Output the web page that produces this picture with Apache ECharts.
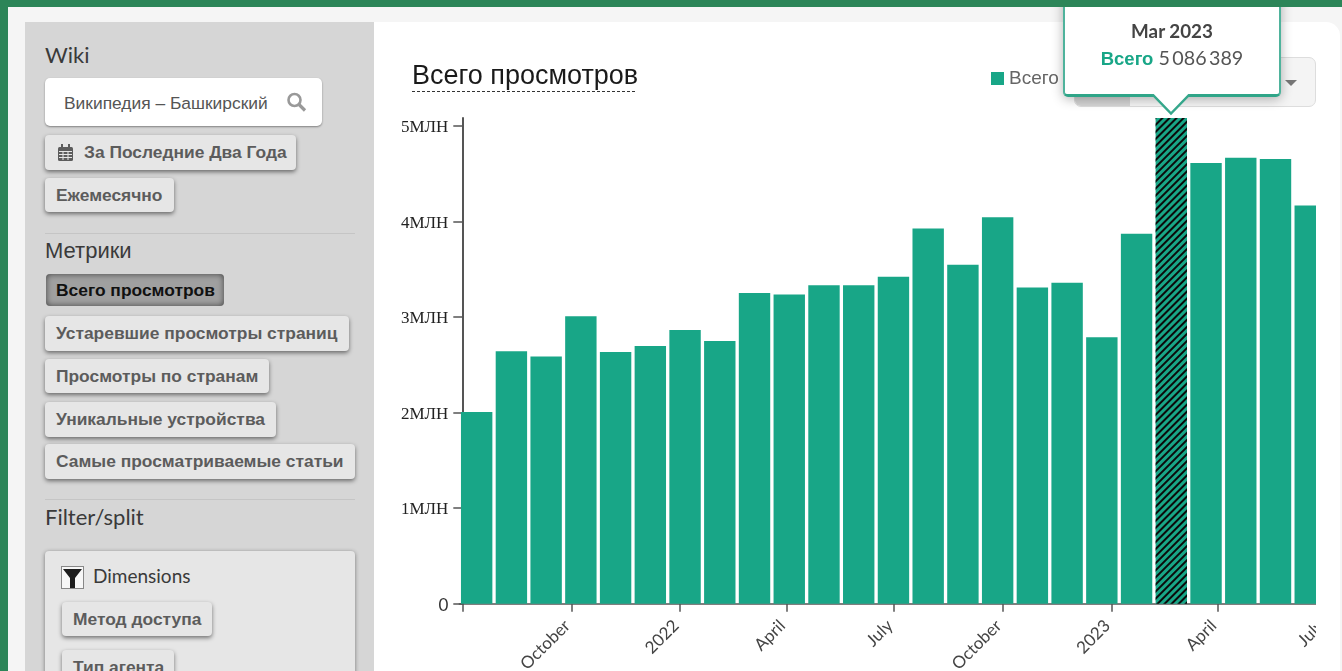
<!DOCTYPE html>
<html lang="ru">
<head>
<meta charset="utf-8">
<title>Всего просмотров</title>
<script src="https://cdn.jsdelivr.net/npm/echarts@6/dist/echarts.min.js"></script>
<style>
html,body{margin:0;padding:0;width:1342px;height:671px;overflow:hidden;background:#2c8558;font-family:"Liberation Sans",Arial,sans-serif}
.abs,.btn,.h{position:absolute}
#panel{position:absolute;left:8px;top:7px;width:1334px;height:664px;background:#f5f5f5}
#side{position:absolute;left:25px;top:22px;width:349px;height:649px;background:#d6d6d6}
#main{position:absolute;left:374px;top:22px;width:966px;height:649px;background:#fff;border-top-right-radius:14px}
.h{left:45px;font-size:22px;line-height:26px;color:#3a3a3a;font-family:"Liberation Sans",sans-serif}
.btn{box-sizing:border-box;background:#e6e6e6;border-radius:4px;box-shadow:0 2px 4px rgba(0,0,0,.5);color:#5c5c5c;font-weight:700;font-size:17.4px;line-height:35px;padding-left:11px;white-space:nowrap}
.hr{position:absolute;left:45px;width:310px;height:1px;background:#c5c5c5}
#wrap{position:absolute;left:374px;top:7px;width:942px;height:664px;overflow:hidden}
#chart{width:942px;height:664px}
#grp{position:absolute;left:1074px;top:57px;width:242px;height:50px;box-sizing:border-box;border:1px solid #ddd;border-radius:7px;background:#f4f4f4;overflow:hidden}
#grp i{position:absolute;left:0;top:0;width:55px;height:50px;background:#d4d4d4}
#grp b{position:absolute;left:210px;top:22px;border:6px solid transparent;border-top:6px solid #777;border-bottom:0}
</style>
</head>
<body>
<div id="panel"></div>
<div id="side"></div>
<div id="main"></div>

<div class="h" style="top:42px;font-family:Lato,sans-serif">Wiki</div>
<div class="abs" style="left:45px;top:78px;width:277px;height:48px;background:#fff;border-radius:5px;box-shadow:0 1px 2px rgba(0,0,0,.4);font-size:17.4px;line-height:50px;color:#555;padding-left:19px;box-sizing:border-box;white-space:nowrap">Википедия – Башкирский
  <svg style="position:absolute;left:241px;top:14px" width="21" height="20" viewBox="0 0 21 20"><circle cx="8.5" cy="8" r="6" fill="none" stroke="#999" stroke-width="2.6"/><path d="M13 12.5L19 18.5" stroke="#999" stroke-width="3.2"/></svg>
</div>
<div class="btn" style="left:45px;top:135px;width:251px;height:35px;padding-left:39px">За Последние Два Года
  <svg style="position:absolute;left:13px;top:9px" width="15" height="17" viewBox="0 0 15 17"><rect x="0" y="3" width="15" height="14" rx="1.5" fill="#5c5c5c"/><rect x="3" y="0" width="2" height="4" fill="#5c5c5c"/><rect x="10" y="0" width="2" height="4" fill="#5c5c5c"/><path d="M1 7.5H14M1 10.5H14M1 13.5H14M5 7V16M10 7V16" stroke="#e6e6e6" stroke-width="1"/></svg>
</div>
<div class="btn" style="left:45px;top:178px;width:129px;height:34px">Ежемесячно</div>
<div class="hr" style="top:233px"></div>
<div class="h" style="top:238px">Метрики</div>
<div class="btn" style="left:46px;top:274px;width:178px;height:32px;line-height:33px;padding-left:10px;color:#111;background:#a0a0a0;box-shadow:inset 0 0 6px rgba(0,0,0,.6)">Всего просмотров</div>
<div class="btn" style="left:45px;top:316px;width:304px;height:35px">Устаревшие просмотры страниц</div>
<div class="btn" style="left:45px;top:359px;width:224px;height:34px">Просмотры по странам</div>
<div class="btn" style="left:45px;top:402px;width:231px;height:35px">Уникальные устройства</div>
<div class="btn" style="left:45px;top:444px;width:310px;height:35px">Самые просматриваемые статьи</div>
<div class="hr" style="top:499px"></div>
<div class="h" style="top:504px;font-family:Lato,sans-serif">Filter/split</div>
<div class="abs" style="left:45px;top:551px;width:310px;height:130px;background:#e6e6e6;border-radius:4px;box-shadow:0 1px 4px rgba(0,0,0,.45)"></div>
<svg class="abs" style="left:61px;top:566px" width="23" height="23" viewBox="0 0 23 23"><rect x=".5" y=".5" width="22" height="22" fill="#f7f7f7" stroke="#888"/><path d="M2 3H21L14 12V22H9V12Z" fill="#1c1c1c"/></svg>
<div class="abs" style="left:93px;top:565px;font:19px/22px Lato,sans-serif;color:#3a3a3a">Dimensions</div>
<div class="btn" style="left:62px;top:602px;width:150px;height:34px">Метод доступа</div>
<div class="btn" style="left:62px;top:650px;width:112px;height:34px">Тип агента</div>

<div id="grp"><i></i><b></b></div>
<div id="wrap"><div id="chart"></div></div>

<script>
const categories = ['Jul 2021','Aug 2021','Sep 2021','Oct 2021','Nov 2021','Dec 2021','Jan 2022','Feb 2022','Mar 2022','Apr 2022','May 2022','Jun 2022','Jul 2022','Aug 2022','Sep 2022','Oct 2022','Nov 2022','Dec 2022','Jan 2023','Feb 2023','Mar 2023','Apr 2023','May 2023','Jun 2023','Jul 2023'];
const views = [2007000,2643000,2590000,3010000,2637000,2700000,2867000,2752000,3255000,3238000,3335000,3335000,3423000,3930000,3549000,4048000,3311000,3360000,2790000,3874000,5086389,4615000,4671000,4657000,4171000];
const seriesName = 'Всего';
const highlighted = 'Mar 2023';
const tickDates = ['2021-07-01','2021-10-01','2022-01-01','2022-04-01','2022-07-01','2022-10-01','2023-01-01','2023-04-01','2023-07-01'];
const tickLabels = ['','October','2022','April','July','October','2023','April','July'];
const timeMin = '2021-06-28T02:00:00Z';
const timeMax = '2023-07-02T16:00:00Z';
const yTicks = [0,1000000,2000000,3000000,4000000,5000000];
const yLabels = ['0','1МЛН','2МЛН','3МЛН','4МЛН','5МЛН'];

const tickMs = tickDates.map(d => Date.parse(d + 'T00:00:00Z'));
const GREEN = '#18a687', INK = '#555';
const chart = echarts.init(document.getElementById('chart'), null, {renderer:'canvas'});
chart.setOption({
  animation:false,
  title:{text:'Всего просмотров',left:38,top:56,padding:0,textStyle:{fontFamily:'"Liberation Sans",sans-serif',fontSize:27,fontWeight:400,color:'#1a1a1a'}},
  legend:{left:617,top:62,padding:0,itemWidth:13,itemHeight:13,itemGap:7,icon:'rect',selectedMode:false,data:[seriesName],textStyle:{fontFamily:'"Liberation Sans",sans-serif',fontSize:19,color:'#666'}},
  graphic:[{type:'line',silent:true,shape:{x1:38,y1:84.5,x2:263,y2:84.5},style:{stroke:'#333',lineWidth:1,lineDash:[3,2]}}],
  grid:{left:85.3,top:111,width:868.3,height:485.7,outerBoundsMode:'none'},
  tooltip:{
    trigger:'item',triggerOn:'none',alwaysShowContent:true,transitionDuration:0,
    padding:0,borderWidth:0,backgroundColor:'transparent',shadowBlur:0,
    extraCssText:'box-shadow:none;overflow:visible;',
    position:(p,params,dom,rect,size)=>[rect.x+rect.width/2-size.contentSize[0]/2+0.7, rect.y-21-size.contentSize[1]],
    formatter:(p)=>`<div style="position:relative;box-sizing:border-box;width:218px;height:110px;background:#fff;border:2px solid #4fb39c;border-bottom:3px solid #2fa588;border-radius:0 0 5px 5px;box-shadow:0 2px 12px rgba(0,0,0,.3);text-align:center;font-family:Lato,sans-serif">
      <div style="padding-top:29px;font-size:18.8px;line-height:26px;font-weight:700;color:#444">${p.name}</div>
      <div style="font-size:19.7px;line-height:28px;color:#555"><b style="color:${GREEN};font-family:'Liberation Sans',sans-serif;font-size:18.5px">${p.seriesName}</b> 5&#8201;086&#8201;389</div>
      <svg style="position:absolute;left:86px;top:105px;display:block" width="40" height="22" viewBox="0 0 40 22"><path d="M1 0L20 19.5L39 0" fill="#fff" stroke="#35a78b" stroke-width="2.5"/></svg>
    </div>`
  },
  xAxis:[
    {type:'category',data:categories,boundaryGap:true,position:'bottom',
      axisLine:{lineStyle:{color:'#555',width:1.5}},axisTick:{show:false},axisLabel:{show:false},splitLine:{show:false}},
    {type:'value',position:'bottom',min:Date.parse(timeMin),max:Date.parse(timeMax),
      axisLine:{show:false},splitLine:{show:false},
      axisTick:{show:true,length:8,customValues:tickMs,lineStyle:{color:'#555',width:1.5}},
      axisLabel:{show:true,customValues:tickMs,rotate:45,margin:15,padding:[0,6,0,0],hideOverlap:false,
        fontFamily:'Lato,sans-serif',fontSize:17,color:'#444',
        formatter:v=>tickLabels[tickMs.indexOf(v)]||''}}
  ],
  yAxis:{type:'value',min:0,max:5086389,interval:1000000,offset:-3,splitLine:{show:false},
    axisLine:{show:true,lineStyle:{color:'#555',width:2}},
    axisTick:{show:true,length:9,lineStyle:{color:'#555',width:1.5}},
    axisLabel:{margin:14,padding:[3,0,0,0],showMaxLabel:false,showMinLabel:true,color:'#222',
      fontFamily:'"Liberation Serif",serif',fontSize:17,
      rich:{z:{fontFamily:'Lato,sans-serif',fontSize:17,color:'#333'}},
      formatter:v=>{const i=yTicks.indexOf(v);return i<0?'':(i===0?'{z|0}':yLabels[i]);}}},
  series:[{name:seriesName,type:'bar',barWidth:31.4,xAxisIndex:0,
    emphasis:{disabled:true},
    itemStyle:{color:GREEN},
    data:views.map((v,i)=>categories[i]===highlighted
      ?{value:v,itemStyle:{color:GREEN,decal:{color:'#0b0b0b',symbol:'rect',symbolSize:1,dashArrayX:[1,0],dashArrayY:[2,3],rotation:-Math.PI/4}}}
      :v)}]
});
chart.dispatchAction({type:'showTip',seriesIndex:0,dataIndex:categories.indexOf(highlighted)});
</script>
</body>
</html>
